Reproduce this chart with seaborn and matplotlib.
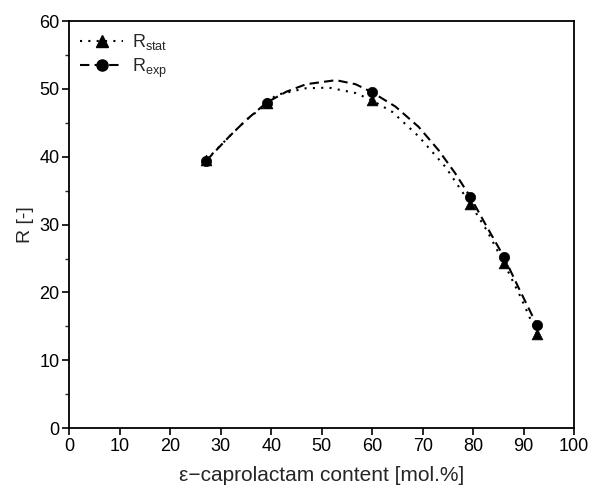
import matplotlib
matplotlib.use('Agg')
import matplotlib.pyplot as plt
import seaborn as sns
import pandas as pd
from matplotlib.lines import Line2D
from matplotlib.ticker import MultipleLocator

sns.set_theme(style='ticks')
plt.rcParams['font.family'] = ['Liberation Sans', 'DejaVu Sans']
plt.rcParams['mathtext.fontset'] = 'custom'
plt.rcParams['mathtext.rm'] = 'Liberation Sans'

# measured points
content = [27.1, 39.1, 60.0, 79.4, 86.1, 92.6]
r_stat = [39.5, 48.0, 48.3, 33.1, 24.3, 13.9]
r_exp = [39.4, 48.0, 49.5, 34.1, 25.2, 15.2]

# fitted curves
exp_curve_x = [27.1, 31.7, 35.0, 39.1, 43.0, 46.9, 52.8, 56.7, 60.0, 64.6, 69.2, 73.1, 76.4, 79.4, 82.3, 86.1, 88.9, 92.6]
exp_curve_y = [39.4, 43.0, 45.4, 48.0, 49.6, 50.7, 51.3, 50.7, 49.5, 47.4, 44.4, 41.0, 37.6, 34.1, 30.2, 25.2, 20.8, 15.2]
stat_curve_x = [27.1, 31.7, 35.0, 39.1, 40.9, 46.8, 51.4, 56.7, 60.0, 64.0, 69.2, 74.5, 79.4, 82.8, 86.1, 89.4, 92.6]
stat_curve_y = [39.5, 43.0, 45.4, 47.8, 49.1, 50.1, 50.2, 49.4, 48.3, 46.6, 43.0, 38.5, 33.1, 29.0, 24.3, 19.3, 13.9]

pts = pd.DataFrame({'x': content, 'stat': r_stat, 'exp': r_exp})

fig = plt.figure(figsize=(5.92, 4.92), dpi=100)
ax = fig.add_axes([0.117, 0.130, 0.853, 0.827])

sns.lineplot(x=stat_curve_x, y=stat_curve_y, sort=False, ax=ax, color='black',
             linewidth=1.5, linestyle=(0, (1, 3)))
sns.lineplot(x=exp_curve_x, y=exp_curve_y, sort=False, ax=ax, color='black',
             linewidth=1.5, linestyle=(0, (4.5, 2.5)))
sns.scatterplot(data=pts, x='x', y='stat', ax=ax, marker='^', s=60, color='black',
                edgecolor='black', linewidth=0.5, zorder=3)
sns.scatterplot(data=pts, x='x', y='exp', ax=ax, marker='o', s=55, color='black',
                edgecolor='black', linewidth=0.5, zorder=3)

ax.set_xlim(0, 100)
ax.set_ylim(0, 60)
ax.xaxis.set_major_locator(MultipleLocator(10))
ax.yaxis.set_major_locator(MultipleLocator(10))
ax.yaxis.set_minor_locator(MultipleLocator(5))
ax.tick_params(axis='both', which='major', direction='out', length=5, width=1.2,
               labelsize=13, colors='black', pad=2)
ax.tick_params(axis='y', which='minor', direction='out', length=3, width=1.0)
for s in ax.spines.values():
    s.set_linewidth(1.3)
    s.set_color('black')

ax.set_xlabel('ε−caprolactam content [mol.%]', fontsize=15, labelpad=8)
ax.set_ylabel('R [-]', fontsize=14, labelpad=4)

handles = [
    Line2D([], [], color='black', linestyle=(0, (1, 3)), linewidth=1.5, marker='^', markersize=8),
    Line2D([], [], color='black', linestyle=(0, (4.5, 2.5)), linewidth=1.5, marker='o', markersize=8),
]
ax.legend(handles, ['R$_{\\mathrm{stat}}$', 'R$_{\\mathrm{exp}}$'], loc='upper left',
          frameon=False, fontsize=13, handlelength=2.4, borderaxespad=0.2,
          labelspacing=0.25, handletextpad=0.5)

fig.savefig('out.png', dpi=100)
